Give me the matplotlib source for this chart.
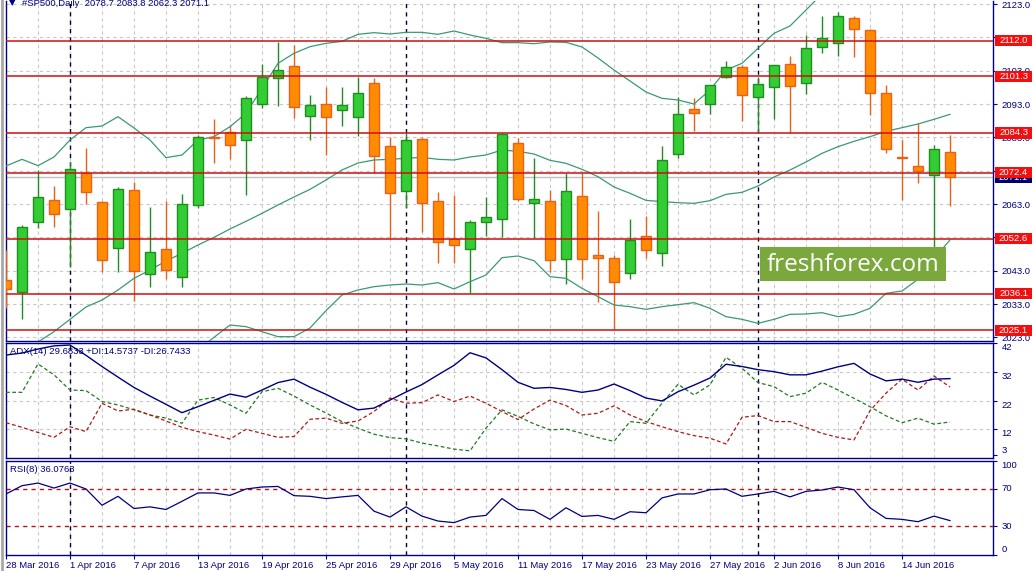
import matplotlib
matplotlib.use('Agg')
import matplotlib.pyplot as plt
import matplotlib.transforms as mtransforms
from matplotlib.patches import Rectangle
from matplotlib.lines import Line2D
import numpy as np

# ---------------- data ----------------
opens = [2040.2, 2036.7, 2057.5, 2064.1, 2061.4, 2072.4, 2063.5, 2049.9, 2067.1, 2042.1,
         2049.4, 2041.0, 2062.7, 2083.2, 2084.5, 2082.1, 2092.9, 2100.9, 2104.4, 2089.3,
         2092.9, 2091.1, 2089.2, 2099.2, 2080.4, 2067.0, 2082.4, 2063.8, 2052.5, 2049.4,
         2057.5, 2058.4, 2081.4, 2063.2, 2063.9, 2046.6, 2065.4, 2047.6, 2046.7, 2042.2,
         2053.3, 2048.2, 2077.9, 2091.5, 2092.9, 2101.0, 2104.0, 2095.2, 2098.2, 2104.9,
         2099.2, 2110.0, 2111.2, 2118.7, 2115.1, 2096.2, 2077.0, 2074.5, 2071.6, 2078.7]
highs = [2049.2, 2056.7, 2073.2, 2068.4, 2075.7, 2079.9, 2064.0, 2068.2, 2069.7, 2062.2,
         2063.9, 2066.0, 2083.6, 2088.5, 2086.7, 2095.4, 2105.0, 2111.7, 2110.7, 2095.7,
         2098.0, 2098.0, 2101.2, 2100.7, 2083.2, 2084.2, 2083.2, 2066.5, 2065.7, 2058.2,
         2065.0, 2084.2, 2082.7, 2076.7, 2067.2, 2072.4, 2072.4, 2061.0, 2047.7, 2058.5,
         2059.4, 2080.4, 2095.2, 2094.7, 2098.8, 2105.9, 2104.7, 2101.2, 2104.7, 2107.5,
         2113.7, 2119.4, 2120.6, 2119.4, 2115.4, 2098.6, 2082.2, 2087.2, 2080.7, 2083.8]
lows = [2031.8, 2028.4, 2055.9, 2056.2, 2044.2, 2062.9, 2042.7, 2042.7, 2034.0, 2038.2,
        2040.4, 2038.0, 2061.7, 2075.4, 2076.6, 2065.7, 2091.7, 2092.4, 2088.9, 2082.2,
        2077.7, 2086.5, 2083.4, 2072.2, 2052.7, 2061.7, 2054.7, 2045.4, 2045.4, 2036.2,
        2053.4, 2053.2, 2064.0, 2052.7, 2042.7, 2039.0, 2040.4, 2033.7, 2025.2, 2040.4,
        2046.9, 2044.4, 2076.7, 2085.0, 2090.0, 2100.7, 2088.0, 2084.4, 2088.4, 2084.2,
        2095.9, 2108.2, 2107.5, 2107.2, 2089.7, 2078.4, 2064.2, 2069.2, 2050.0, 2062.3]
closes = [2037.4, 2056.0, 2065.0, 2059.9, 2073.4, 2066.5, 2046.2, 2067.4, 2042.8, 2048.6,
          2043.1, 2062.9, 2083.0, 2082.8, 2080.6, 2094.7, 2101.2, 2103.2, 2092.0, 2092.6,
          2089.0, 2092.6, 2096.2, 2077.4, 2066.2, 2082.2, 2063.4, 2051.5, 2050.6, 2057.6,
          2059.0, 2083.9, 2064.4, 2064.4, 2046.2, 2066.8, 2046.6, 2046.9, 2039.7, 2052.1,
          2049.2, 2076.2, 2089.9, 2090.2, 2098.7, 2104.0, 2095.6, 2098.9, 2104.6, 2098.5,
          2109.7, 2112.7, 2119.4, 2115.6, 2096.2, 2079.4, 2076.8, 2073.0, 2079.5, 2071.1]

bb_upper = [2074.4, 2076.4, 2074.5, 2077.1, 2082.2, 2085.9, 2086.4, 2089.2, 2085.8, 2082.2,
            2076.9, 2077.7, 2082.2, 2083.2, 2086.2, 2090.2, 2097.7, 2105.2, 2108.2, 2110.2,
            2111.2, 2111.8, 2113.9, 2114.4, 2114.0, 2114.5, 2114.5, 2113.9, 2114.9, 2113.7,
            2112.7, 2111.4, 2111.4, 2111.1, 2111.6, 2111.5, 2110.1, 2106.8, 2103.2, 2099.9,
            2096.6, 2094.7, 2094.2, 2093.0, 2097.2, 2103.2, 2105.2, 2109.7, 2114.2, 2116.4,
            2121.2, 2126.0, 2129.5, 2132.0, 2133.5, 2134.0, 2134.0, 2134.0, 2133.0, 2132.5]
bb_middle = [2017.5, 2019.5, 2021.6, 2024.7, 2028.4, 2032.1, 2034.2, 2037.2, 2040.7, 2043.2,
             2045.9, 2048.2, 2050.7, 2053.0, 2055.5, 2057.8, 2060.2, 2062.7, 2065.1, 2067.4,
             2070.2, 2073.2, 2075.3, 2076.2, 2076.4, 2076.7, 2077.0, 2076.4, 2076.2, 2077.1,
             2077.7, 2079.2, 2078.8, 2078.0, 2076.1, 2075.2, 2073.4, 2071.2, 2068.1, 2066.2,
             2064.1, 2063.7, 2063.4, 2063.2, 2064.0, 2065.9, 2066.5, 2068.4, 2071.1, 2073.2,
             2075.6, 2078.2, 2080.2, 2081.8, 2083.2, 2084.8, 2085.9, 2087.0, 2088.4, 2089.9]
bb_lower = [1960.6, 1962.6, 1968.7, 1972.3, 1974.6, 1978.3, 1982.0, 1985.2, 1995.6, 2004.2,
            2014.9, 2018.7, 2019.2, 2023.0, 2026.7, 2026.2, 2024.7, 2023.2, 2023.2, 2025.8,
            2031.0, 2035.7, 2037.2, 2038.2, 2038.7, 2039.0, 2038.7, 2039.4, 2037.5, 2039.7,
            2041.7, 2046.9, 2047.4, 2046.0, 2041.2, 2040.7, 2037.7, 2035.2, 2032.7, 2032.2,
            2031.4, 2032.2, 2032.8, 2033.4, 2031.7, 2029.2, 2028.4, 2027.2, 2028.4, 2029.9,
            2030.0, 2030.4, 2029.2, 2029.9, 2031.7, 2036.2, 2036.9, 2040.4, 2046.7, 2052.2]

adx = [37.9, 38.6, 40.0, 41.1, 41.4, 37.8, 33.9, 30.2, 26.6, 23.6,
       20.7, 17.8, 19.9, 22.1, 24.3, 23.2, 25.7, 28.3, 29.5, 26.7,
       24.2, 21.4, 18.8, 19.4, 22.2, 25.0, 27.6, 31.0, 34.3, 38.7,
       36.9, 32.8, 28.4, 26.3, 26.6, 25.9, 24.9, 25.7, 27.8, 25.5,
       22.9, 21.9, 25.1, 27.4, 29.9, 34.7, 33.9, 32.8, 32.1, 31.0,
       31.0, 32.3, 33.8, 35.0, 31.3, 28.9, 29.5, 28.4, 29.5, 29.68]
plus_di = [24.9, 24.9, 34.8, 31.0, 25.7, 25.5, 21.7, 20.5, 18.8, 17.0,
           15.9, 14.1, 22.2, 23.1, 20.5, 17.6, 25.1, 26.3, 23.6, 20.5,
           17.7, 14.7, 12.4, 10.3, 9.1, 8.7, 7.2, 6.2, 5.1, 4.5,
           12.4, 18.8, 16.5, 13.9, 11.8, 12.1, 10.6, 9.1, 7.8, 14.7,
           14.1, 21.1, 27.7, 24.0, 27.5, 37.1, 33.3, 28.3, 26.9, 23.4,
           24.6, 28.4, 25.7, 22.8, 19.9, 16.7, 14.3, 15.9, 13.8, 14.57]
minus_di = [14.3, 12.7, 10.9, 9.2, 12.9, 11.2, 21.1, 18.4, 19.0, 17.0,
            14.9, 12.7, 11.2, 10.0, 8.6, 12.0, 10.6, 9.2, 9.5, 15.5,
            15.9, 14.1, 14.9, 18.2, 22.9, 21.1, 21.3, 24.0, 21.7, 23.6,
            21.1, 18.2, 15.4, 19.1, 22.2, 20.3, 17.0, 17.6, 20.2, 17.0,
            14.7, 12.9, 11.2, 9.8, 8.9, 6.9, 16.2, 16.8, 14.7, 14.7,
            12.7, 10.6, 9.2, 8.3, 18.5, 24.6, 29.5, 25.7, 30.6, 26.74]
rsi = [64.4, 73.2, 76.0, 70.7, 76.0, 69.7, 52.4, 61.9, 48.9, 50.7,
       47.9, 56.6, 65.5, 65.5, 62.9, 69.7, 71.8, 72.4, 62.6, 61.9,
       59.5, 61.3, 62.9, 46.1, 39.8, 50.7, 40.8, 35.6, 33.9, 39.8,
       41.6, 59.5, 47.9, 46.8, 37.4, 49.7, 40.5, 41.6, 37.4, 45.5,
       44.4, 60.2, 64.4, 64.4, 68.9, 69.7, 61.9, 64.4, 67.2, 61.3,
       67.2, 68.6, 71.8, 68.9, 49.7, 38.4, 37.4, 34.9, 40.8, 36.08]

levels = [2112.0, 2101.3, 2084.3, 2072.4, 2052.6, 2036.1, 2025.1]
current_price = 2071.1
date_labels = ['28 Mar 2016', '1 Apr 2016', '7 Apr 2016', '13 Apr 2016', '19 Apr 2016',
               '25 Apr 2016', '29 Apr 2016', '5 May 2016', '11 May 2016', '17 May 2016',
               '23 May 2016', '27 May 2016', '2 Jun 2016', '8 Jun 2016', '14 Jun 2016']
month_start_idx = [4, 25, 47]
price_ticks = [2023, 2033, 2043, 2053, 2063, 2073, 2083, 2093, 2103, 2113, 2123]
adx_ticks = [3, 12, 22, 32, 42]
rsi_ticks = [0, 30, 70, 100]
rsi_levels = [30, 70]
title_text = '#SP500,Daily  2078.7 2083.8 2062.3 2071.1'
adx_text = 'ADX(14) 29.6833 +DI:14.5737 -DI:26.7433'
rsi_text = 'RSI(8) 36.0763'

# ---------------- style ----------------
NAVY = '#000080'
GREEN = '#32CD32'
GREEN_E = '#228B22'
ORANGE = '#FF8C00'
ORANGE_E = '#E8601C'
BB = '#3A9A72'
GRID = '#C8C8C8'
FS = 6.8

plt.rcParams['font.family'] = ['Liberation Sans', 'DejaVu Sans']

W, H = 1035, 571
fig = plt.figure(figsize=(W / 100, H / 100), dpi=100)
fig.patch.set_facecolor('white')


def ax_at(x0, y0, x1, y1):
    return fig.add_axes([x0 / W, 1 - y1 / H, (x1 - x0) / W, (y1 - y0) / H])


AX_L, AX_R = 6, 993
ax1 = ax_at(AX_L, 1, AX_R, 341)
ax2 = ax_at(AX_L, 343, AX_R, 458)
ax3 = ax_at(AX_L, 460.5, AX_R, 554.5)

n = len(opens)
x = np.arange(n)
o = np.array(opens); c = np.array(closes); hi = np.array(highs); lo = np.array(lows)
XMAX = (AX_R - AX_L) / 16.0

for ax in (ax1, ax2, ax3):
    ax.set_xlim(0, XMAX)
    ax.set_xticks(np.arange(0, 60, 4))
    ax.set_xticks(np.arange(2, 62, 4), minor=True)
    ax.grid(True, which='both', axis='x', color=GRID, lw=0.8, ls=(0, (3, 3)))
    for s in ax.spines.values():
        s.set_color(NAVY)
        s.set_linewidth(1)
    ax.yaxis.tick_right()
    ax.tick_params(axis='y', which='both', colors=NAVY, labelsize=FS, length=3, pad=3)
    ax.tick_params(axis='x', which='both', length=0, labelbottom=False)
    for m in month_start_idx:
        ax.axvline(m, color='#000030', lw=1, ls=(0, (3, 3)), zorder=1.2)
    ax.set_axisbelow(True)

# ---------------- main panel ----------------
ax1.spines['top'].set_visible(False)
ax1.set_ylim(2021.9, 2123.9)
ax1.set_yticks(price_ticks)
ax1.set_yticklabels([f'{v:.1f}' for v in price_ticks])
ax1.grid(True, axis='y', color=GRID, lw=0.8, ls=(0, (3, 3)))

ax1.axhline(current_price, color='#C0C0C0', lw=1, zorder=1.4)

up = c >= o
dn = ~up
bw = 0.62
ax1.vlines(x[up], lo[up], hi[up], color=GREEN_E, lw=1, zorder=3)
ax1.vlines(x[dn], lo[dn], hi[dn], color=ORANGE_E, lw=1, zorder=3)
body_bot = np.minimum(o, c)
body_h = np.maximum(np.abs(c - o), 0.3)
ax1.bar(x[up], body_h[up], bottom=body_bot[up], width=bw, color=GREEN, edgecolor=GREEN_E, lw=1, zorder=4)
ax1.bar(x[dn], body_h[dn], bottom=body_bot[dn], width=bw, color=ORANGE, edgecolor=ORANGE_E, lw=1, zorder=4)

for series in (bb_upper, bb_middle, bb_lower):
    ax1.plot(x, series, color=BB, lw=0.9, zorder=3.5)

for lv in levels:
    ax1.axhline(lv, color='#CC1010', lw=1.1, zorder=5)

# price label boxes on the right scale
trans1 = mtransforms.blended_transform_factory(ax1.transAxes, ax1.transData)
px_per_unit = 340 / (2123.9 - 2021.9)
box_h = 11 / px_per_unit
box_x0 = (995 - AX_L) / (AX_R - AX_L)
box_w = 37 / (AX_R - AX_L)
box_xc = box_x0 + box_w / 2


def price_box(val, fc, z):
    ax1.add_patch(Rectangle((box_x0, val - box_h / 2), box_w, box_h, transform=trans1,
                            fc=fc, ec='none', clip_on=False, zorder=z))
    ax1.text(box_xc, val, f'{val:.1f}', transform=trans1, color='white', fontsize=FS,
             ha='center', va='center', clip_on=False, zorder=z + 0.5)


price_box(current_price, '#000070', 9)
for lv in levels:
    price_box(lv, '#F01010', 10)

# ---------------- ADX panel ----------------
ax2.set_ylim(2.0, 42.1)
ax2.set_yticks(adx_ticks)
ax2.set_yticklabels([str(v) for v in adx_ticks])
for lbl, v in zip(ax2.get_yticklabels(), adx_ticks):
    lbl.set_va('bottom' if v == adx_ticks[0] else 'top')
for v in adx_ticks[1:-1]:
    ax2.axhline(v, color=GRID, lw=0.8, ls=(0, (3, 3)), zorder=1)
ax2.plot(x, adx, color=NAVY, lw=1, zorder=4)
ax2.plot(x, plus_di, color='#1E7B1E', lw=0.9, ls=(0, (3, 2)), zorder=3)
ax2.plot(x, minus_di, color='#B01818', lw=0.9, ls=(0, (3, 2)), zorder=3)
ax2.text(4 / 987, 0.93, adx_text, transform=ax2.transAxes,
         color=NAVY, fontsize=FS, ha='left', va='center', zorder=6)

# ---------------- RSI panel ----------------
ax3.set_ylim(0, 100)
ax3.set_yticks(rsi_ticks)
ax3.set_yticklabels([str(v) for v in rsi_ticks])
for lbl, v in zip(ax3.get_yticklabels(), rsi_ticks):
    lbl.set_va('bottom' if v == 0 else ('top' if v == 100 else 'center'))
for lv in rsi_levels:
    ax3.axhline(lv, color='#C01010', lw=1, ls=(0, (3, 3)), zorder=2)
ax3.plot(x, rsi, color=NAVY, lw=0.9, zorder=4)
ax3.text(4 / 987, 0.9, rsi_text, transform=ax3.transAxes,
         color=NAVY, fontsize=FS, ha='left', va='center', zorder=6)
ax3.tick_params(axis='x', which='major', length=3, labelbottom=True, colors=NAVY,
                labelsize=FS, pad=2)
ax3.set_xticklabels(date_labels)
for lbl in ax3.get_xticklabels():
    lbl.set_ha('left')

# ---------------- decorations ----------------
fig.text(9 / W, 1 - 3 / H, '\u25bc', color=NAVY, fontsize=6, ha='left', va='center',
         family=['DejaVu Sans'])
fig.text(22 / W, 1 - 3 / H, title_text, color=NAVY, fontsize=FS, ha='left', va='center')
fig.add_artist(Line2D([1.5 / W, 1.5 / W], [0, 1], color='#A8A8A8', lw=2,
                      transform=fig.transFigure))
fig.patches.append(Rectangle((760 / W, 1 - 281 / H), 186 / W, 34 / H, transform=fig.transFigure,
                             fc='#7BA83C', ec='none', zorder=20))
fig.text(853 / W, 1 - 265 / H, 'freshforex.com', color='white', fontsize=17.5,
         family=['Open Sans', 'DejaVu Sans'], ha='center', va='center', zorder=21)

fig.savefig('out.png', dpi=100, facecolor='white')
